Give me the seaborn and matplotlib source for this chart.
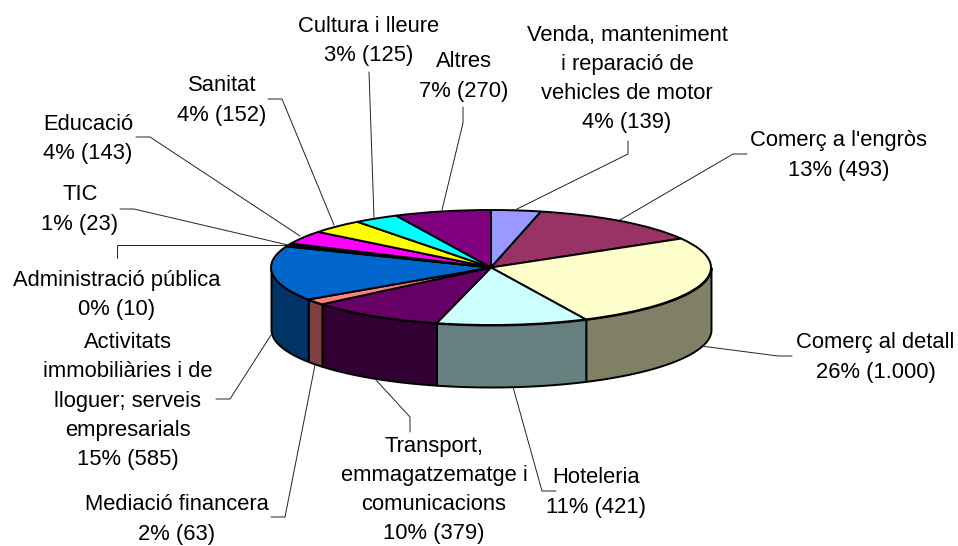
"""Pseudo-3D pie of establishments by sector, drawn on a squashed pie axes."""
import numpy as np
import seaborn as sns
import matplotlib
matplotlib.use("Agg")
import matplotlib.pyplot as plt
from matplotlib.colors import to_rgb
from matplotlib.transforms import Affine2D

sectors = ["Venda", "Engros", "Detall", "Hoteleria", "Transport", "Mediacio", "Activitats",
           "Administracio", "TIC", "Educacio", "Sanitat", "Cultura", "Altres"]
values = [139, 493, 1000, 421, 379, 63, 585, 10, 23, 143, 152, 125, 270]
colors = ["#9999FF", "#993366", "#FFFFCC", "#CCFFFF", "#660066", "#FF8080", "#0066CC",
          "#CCCCFF", "#000080", "#FF00FF", "#FFFF00", "#00FFFF", "#800080"]
labels = [
    "Venda, manteniment\ni reparació de\nvehicles de motor\n4% (139)",
    "Comerç a l'engròs\n13% (493)",
    "Comerç al detall\n26% (1.000)",
    "Hoteleria\n11% (421)",
    "Transport,\nemmagatzematge i\ncomunicacions\n10% (379)",
    "Mediació financera\n2% (63)",
    "Activitats\nimmobiliàries i de\nlloguer; serveis\nempresarials\n15% (585)",
    "Administració pública\n0% (10)",
    "TIC\n1% (23)",
    "Educació\n4% (143)",
    "Sanitat\n4% (152)",
    "Cultura i lleure\n3% (125)",
    "Altres\n7% (270)",
]

# layout in reference pixels
W, H = 958, 546
CX, CY, RX, RY, DEPTH = 491, 267.5, 220, 57.5, 62
label_pos = [(627, 79), (839, 155.5), (875.5, 357.5), (596, 492.5), (434, 490), (177, 519.5),
             (128, 401), (117, 295), (80, 209.5), (88, 139), (222, 100.5), (369, 41), (464, 76.5)]
leaders = [
    [(628, 141), (628, 154), (515, 210)],
    [(747, 154), (733, 154), (620, 220)],
    [(792, 356), (778, 356), (701, 346)],
    [(556, 491), (542, 491), (513, 387)],
    [(410, 432), (410, 417), (376, 380)],
    [(271, 517), (285, 517), (315, 365)],
    [(216, 399), (230, 399), (271, 335)],
    [(117, 258), (117, 245), (288, 245)],
    [(120, 209), (134, 209), (288, 245)],
    [(136, 137), (150, 137), (300, 236)],
    [(268, 99), (282, 99), (334, 225)],
    [(369, 72), (374, 218)],
    [(463, 107), (463, 123), (442, 210)],
]

sns.set_theme(style="white")
plt.rcParams["font.family"] = ["Liberation Sans", "DejaVu Sans"]

fig = plt.figure(figsize=(W / 100, H / 100), dpi=100)
ax = fig.add_axes([0, 0, 1, 1])

# clockwise from 12 o'clock, like the top of the pie
edges = 360 * np.concatenate([[0], np.cumsum(values)]) / np.sum(values)
depth = DEPTH / RY

# visible rim only: front half of the ellipse
for start, end, col in zip(edges[:-1], edges[1:], colors):
    lo, hi = max(start, 90), min(end, 270)
    if hi <= lo:
        continue
    theta = np.radians(np.linspace(lo, hi, 40))
    x, y = np.sin(theta), np.cos(theta)
    ax.fill_between(x, y, y - depth, color=np.array(to_rgb(col)) * 0.5,
                    edgecolor="black", linewidth=1.4, zorder=1)

ax.pie(values, colors=colors, startangle=90, counterclock=False, radius=1,
       wedgeprops={"edgecolor": "black", "linewidth": 1.4, "zorder": 2})
ax.set_aspect("auto")
ax.set_xlim(-CX / RX, (W - CX) / RX)
ax.set_ylim(-(H - CY) / RY, CY / RY)
ax.axis("off")

# pixel coordinates (top-left origin) for the labels and leader lines
px = Affine2D().scale(1 / W, -1 / H).translate(0, 1) + fig.transFigure

for pts in leaders:
    xs, ys = zip(*pts)
    ax.plot(xs, ys, color="#222222", linewidth=0.7, transform=px, zorder=3, clip_on=False)

for text, (x, y) in zip(labels, label_pos):
    fig.text(x, y, text, transform=px, ha="center", va="center", fontsize=15.8,
             color="black", linespacing=1.52, multialignment="center")

fig.savefig("out.png", dpi=100, facecolor="white")
